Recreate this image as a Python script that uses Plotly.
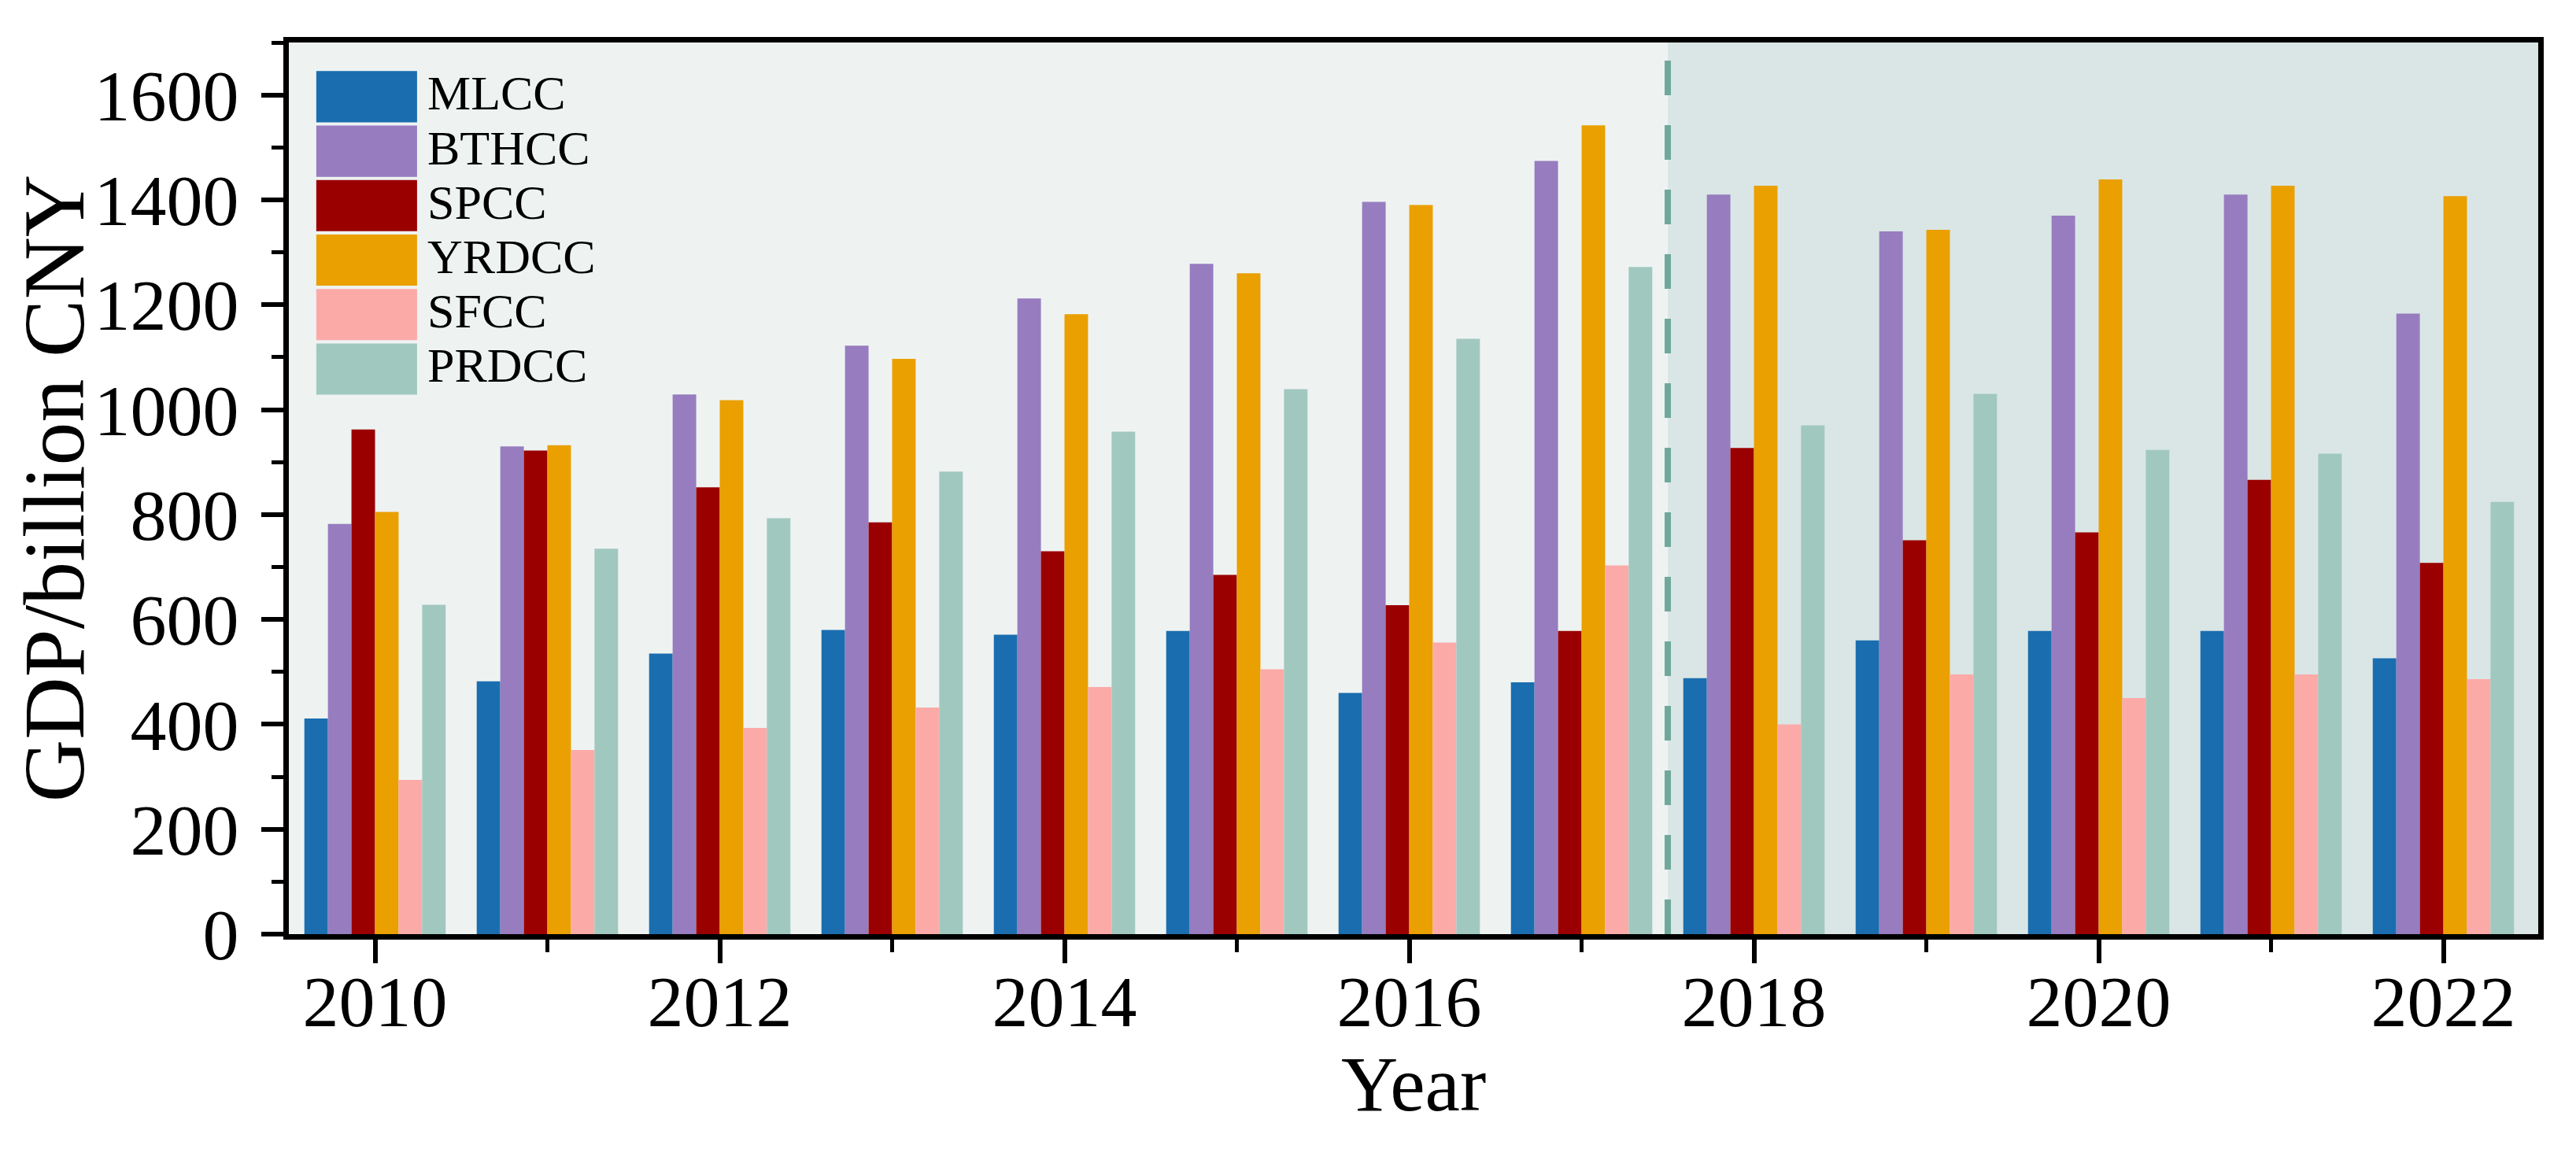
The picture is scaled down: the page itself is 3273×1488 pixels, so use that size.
import plotly.graph_objects as go

# ---------------- data ----------------
years = list(range(2010, 2023))
series_names = ["MLCC", "BTHCC", "SPCC", "YRDCC", "SFCC", "PRDCC"]
mlcc = [411, 482, 535, 580, 571, 578, 460, 480, 488, 560, 578, 578, 526]
bthcc = [782, 930, 1029, 1122, 1212, 1278, 1396, 1474, 1410, 1340, 1370, 1410, 1183]
spcc = [962, 922, 852, 785, 730, 685, 627, 578, 927, 751, 766, 866, 708]
yrdcc = [805, 932, 1018, 1097, 1182, 1260, 1390, 1542, 1427, 1343, 1439, 1427, 1407]
sfcc = [294, 351, 393, 432, 471, 505, 556, 703, 400, 495, 450, 495, 486]
prdcc = [628, 735, 793, 882, 958, 1039, 1135, 1272, 970, 1030, 923, 916, 824]
series_values = [mlcc, bthcc, spcc, yrdcc, sfcc, prdcc]
series_colors = ["#1a6eb0", "#977dbf", "#9b0000", "#eaa000", "#fcaaa8", "#a1c8bf"]
x_tick_vals = [2010, 2012, 2014, 2016, 2018, 2020, 2022]
y_tick_vals = [0, 200, 400, 600, 800, 1000, 1200, 1400, 1600]
split_year = 2017.5

FONT = "Liberation Serif"

fig = go.Figure()
for name, vals, col in zip(series_names, series_values, series_colors):
    fig.add_trace(go.Bar(x=years, y=vals, name=name, marker_color=col,
                         marker_line_width=0, showlegend=False))

x_range = [2009.5, 2022.55]
y_range = [0, 1700]

# shaded later period + dashed divider
fig.add_shape(type="rect", xref="x", yref="y domain", x0=split_year, x1=x_range[1],
              y0=0, y1=1, fillcolor="#dae6e6", line_width=0, layer="below")
fig.add_shape(type="line", xref="x", yref="y domain", x0=split_year, x1=split_year,
              y0=0, y1=0.988, line=dict(color="#6fa89b", width=8, dash="44px,38px"),
              layer="above")

# custom legend with large swatches
top = 0.968
pitch = 0.0611
h = 0.0575
for i, (name, col) in enumerate(zip(series_names, series_colors)):
    y1 = top - i * pitch
    y0 = y1 - h
    fig.add_shape(type="rect", xref="x domain", yref="y domain", x0=0.0122, x1=0.057,
                  y0=y0, y1=y1, fillcolor=col, line_width=0)
    fig.add_annotation(xref="x domain", yref="y domain", x=0.061, y=(y0 + y1) / 2 + 0.004,
                       text=name, showarrow=False, xanchor="left", yanchor="middle",
                       font=dict(family=FONT, size=62, color="black"))

# x-axis title
fig.add_annotation(xref="x domain", yref="y domain", x=0.5, y=-0.168, text="Year",
                   showarrow=False, xanchor="center", yanchor="middle",
                   font=dict(family=FONT, size=100, color="black"))

fig.update_layout(
    width=3257, height=1472,
    margin=dict(l=359, r=40, t=46, b=293),
    paper_bgcolor="white", plot_bgcolor="#eef3f2",
    barmode="group", bargap=0.18, bargroupgap=0,
    font=dict(family=FONT, color="black"),
)
fig.update_xaxes(
    range=x_range, tickvals=x_tick_vals, ticktext=[str(v) for v in x_tick_vals],
    ticks="outside", ticklen=30, tickwidth=6, tickcolor="black",
    minor=dict(tickvals=years, ticks="outside", ticklen=16, tickwidth=5, tickcolor="black"),
    showline=True, linewidth=7, linecolor="black", mirror=True,
    showgrid=False, zeroline=False,
    tickfont=dict(family=FONT, size=92, color="black"), ticklabelstandoff=-30,
)
fig.update_yaxes(
    range=y_range, tickvals=y_tick_vals,
    ticks="outside", ticklen=28, tickwidth=6, tickcolor="black",
    minor=dict(dtick=100, tick0=0, ticks="outside", ticklen=15, tickwidth=5, tickcolor="black"),
    showline=True, linewidth=7, linecolor="black", mirror=True,
    showgrid=False, zeroline=False,
    tickfont=dict(family=FONT, size=92, color="black"), ticklabelstandoff=10,
    title=dict(text="GDP/billion CNY", font=dict(family=FONT, size=110, color="black"), standoff=0),
)

fig.write_html("out.html")
